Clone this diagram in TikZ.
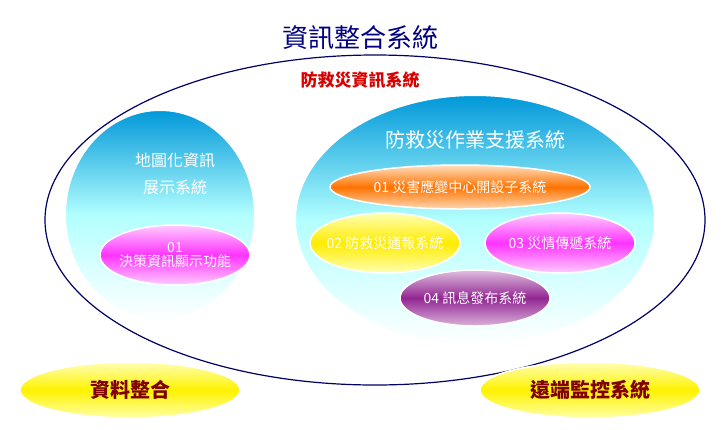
\documentclass[tikz,border=0pt]{standalone}
\usepackage{fontspec}
\newfontfamily\cjk{Noto Sans CJK TC}
\usetikzlibrary{positioning}
\newcommand{\fsz}[1]{\fontsize{#1}{#1}\selectfont}
\begin{document}
\begin{tikzpicture}[x=1pt,y=-1pt,font=\cjk,
  bubble/.style={draw=white,line width=1.5pt},
  blueball/.style={draw=white,line width=2pt,top color=cyan!70!blue!85!black,bottom color=white,middle color=cyan!30},
  ttl/.style={text=white,font=\cjk\fsz{16}},
  btxt/.style={text=white,font=\cjk\fsz{14}}]
\useasboundingbox (0,0) rectangle (722,429);

% outer system
\node (title) at (360,38) {\color{blue!50!black}\fsz{26}資訊整合系統};
\draw[blue!40!black,line width=1.2pt,fill=white] (375,220) ellipse [x radius=330,y radius=165];
\node (sub) at (360,80) {\color{red!85!black}\bfseries\fsz{17}防救災資訊系統};

% left part
\path[blueball] (160,215) ellipse [x radius=95,y radius=105];
\node[ttl] (map) at (175,160) {地圖化資訊};
\node[ttl,below=6pt of map] (show) {展示系統};
\path[bubble,top color=magenta!20,bottom color=magenta!20,middle color=magenta!80] (175,255) ellipse [x radius=75,y radius=30];
\node[btxt,align=center] (dec) at (175,255) {01\\決策資訊顯示功能};

% right part
\path[blueball] (475,220) ellipse [x radius=180,y radius=125];
\node[ttl,font=\cjk\fsz{20}] (ops) at (475,140) {防救災作業支援系統};
\path[bubble,top color=orange!25,bottom color=orange!30,middle color=orange!90!red] (460,187) ellipse [x radius=130,y radius=22];
\node[btxt] (c1) at (460,187) {01 災害應變中心開設子系統};
\path[bubble,top color=yellow!30,bottom color=yellow!30,middle color=yellow!85!orange] (385,243) ellipse [x radius=75,y radius=30];
\node[btxt] (c2) at (385,243) {02 防救災通報系統};
\path[bubble,top color=magenta!20,bottom color=magenta!20,middle color=magenta!80] (560,243) ellipse [x radius=75,y radius=30];
\node[btxt] (c3) at (560,243) {03 災情傳遞系統};
\path[bubble,top color=violet!25,bottom color=violet!30,middle color=violet!85] (475,298) ellipse [x radius=75,y radius=28];
\node[btxt] (c4) at (475,298) {04 訊息發布系統};

% bottom
\path[bubble,top color=yellow!30,bottom color=yellow!35,middle color=yellow!90!orange] (130,390) ellipse [x radius=110,y radius=28];
\node[text=red!50!black,font=\cjk\fsz{20}\bfseries] (data) at (130,390) {資料整合};
\path[bubble,top color=yellow!30,bottom color=yellow!35,middle color=yellow!90!orange] (590,390) ellipse [x radius=110,y radius=28];
\node[text=red!50!black,font=\cjk\fsz{20}\bfseries] (mon) at (590,390) {遠端監控系統};
\end{tikzpicture}
\end{document}
